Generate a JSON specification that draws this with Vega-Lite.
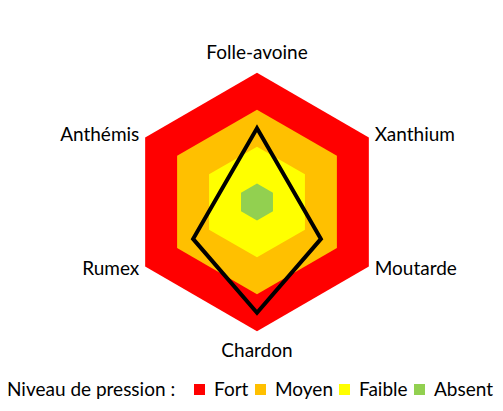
{
  "$schema": "https://vega.github.io/schema/vega-lite/v6.json",
  "width": 503,
  "height": 411,
  "autosize": {"type": "none"},
  "padding": 0,
  "config": {"view": {"stroke": null}, "font": "Lato"},
  "datasets": {
    "axes": [
      {"axe": "Folle-avoine", "i": 0, "pression": 2},
      {"axe": "Xanthium", "i": 1, "pression": 1},
      {"axe": "Moutarde", "i": 2, "pression": 2},
      {"axe": "Chardon", "i": 3, "pression": 3},
      {"axe": "Rumex", "i": 4, "pression": 2},
      {"axe": "Anthémis", "i": 5, "pression": 1}
    ],
    "niveaux": [
      {"niveau": "Fort", "borne": 3.5, "i": [0, 1, 2, 3, 4, 5]},
      {"niveau": "Moyen", "borne": 2.5, "i": [0, 1, 2, 3, 4, 5]},
      {"niveau": "Faible", "borne": 1.5, "i": [0, 1, 2, 3, 4, 5]},
      {"niveau": "Absent", "borne": 0.5, "i": [0, 1, 2, 3, 4, 5]}
    ]
  },
  "encoding": {
    "x": {"field": "x", "type": "quantitative", "axis": null,
          "scale": {"domain": [-6.965, 6.667], "nice": false, "zero": false}},
    "y": {"field": "y", "type": "quantitative", "axis": null,
          "scale": {"domain": [-5.664, 5.474], "nice": false, "zero": false}}
  },
  "layer": [
    {
      "data": {"name": "niveaux"},
      "transform": [
        {"flatten": ["i"]},
        {"calculate": "datum.borne * sin(datum.i * PI / 3)", "as": "x"},
        {"calculate": "datum.borne * cos(datum.i * PI / 3)", "as": "y"}
      ],
      "mark": {"type": "line", "interpolate": "linear-closed", "filled": true, "strokeWidth": 0},
      "encoding": {
        "order": {"field": "i", "type": "quantitative"},
        "color": {
          "field": "niveau", "type": "nominal",
          "scale": {"domain": ["Fort", "Moyen", "Faible", "Absent"],
                    "range": ["#FF0000", "#FFC000", "#FFFF00", "#92D050"]},
          "legend": {
            "title": "Niveau de pression :",
            "orient": "none", "legendX": 7, "legendY": 380,
            "direction": "horizontal", "titleOrient": "left", "gridAlign": "none",
            "titleFontSize": 19, "titleFontWeight": "normal", "titleColor": "black",
            "titlePadding": 14, "labelFontSize": 19, "labelColor": "black",
            "symbolType": "square", "symbolSize": 121, "symbolStrokeWidth": 0,
            "symbolOpacity": 1, "columnPadding": 2, "labelOffset": 5
          }
        }
      }
    },
    {
      "data": {"name": "axes"},
      "transform": [
        {"calculate": "datum.pression * sin(datum.i * PI / 3)", "as": "x"},
        {"calculate": "datum.pression * cos(datum.i * PI / 3)", "as": "y"}
      ],
      "mark": {"type": "line", "interpolate": "linear-closed", "color": "black",
               "strokeWidth": 4, "strokeJoin": "miter"},
      "encoding": {"order": {"field": "i", "type": "quantitative"}}
    },
    {
      "data": {"name": "axes"},
      "transform": [
        {"filter": "datum.i == 0 || datum.i == 3"},
        {"calculate": "4.04 * sin(datum.i * PI / 3)", "as": "x"},
        {"calculate": "4.04 * cos(datum.i * PI / 3)", "as": "y"}
      ],
      "mark": {"type": "text", "fontSize": 19, "color": "black", "align": "center", "baseline": "middle"},
      "encoding": {"text": {"field": "axe"}}
    },
    {
      "data": {"name": "axes"},
      "transform": [
        {"filter": "datum.i == 1 || datum.i == 2"},
        {"calculate": "3.62 * sin(datum.i * PI / 3)", "as": "x"},
        {"calculate": "3.62 * cos(datum.i * PI / 3)", "as": "y"}
      ],
      "mark": {"type": "text", "fontSize": 19, "color": "black", "align": "left", "baseline": "middle", "dx": 2},
      "encoding": {"text": {"field": "axe"}}
    },
    {
      "data": {"name": "axes"},
      "transform": [
        {"filter": "datum.i == 4 || datum.i == 5"},
        {"calculate": "3.62 * sin(datum.i * PI / 3)", "as": "x"},
        {"calculate": "3.62 * cos(datum.i * PI / 3)", "as": "y"}
      ],
      "mark": {"type": "text", "fontSize": 19, "color": "black", "align": "right", "baseline": "middle", "dx": -2},
      "encoding": {"text": {"field": "axe"}}
    }
  ]
}
